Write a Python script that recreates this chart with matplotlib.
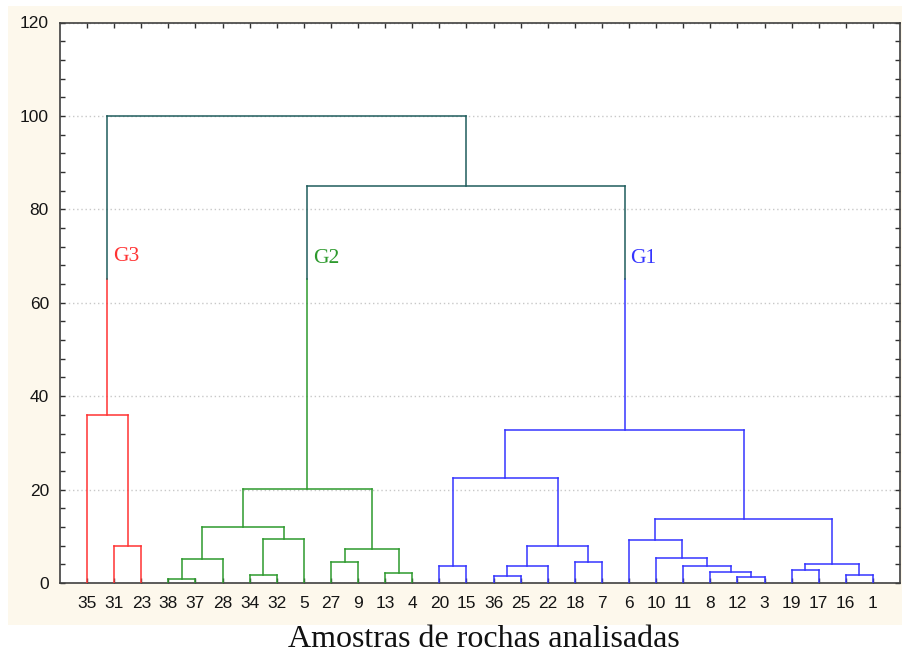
import numpy as np
import matplotlib
matplotlib.use('Agg')
import matplotlib.pyplot as plt
from matplotlib.patches import Rectangle
from matplotlib.ticker import MultipleLocator

# Folhas do dendrograma, pela ordem em que aparecem no eixo x
leaves = ['35', '31', '23', '38', '37', '28', '34', '32', '5', '27', '9', '13', '4',
          '20', '15', '36', '25', '22', '18', '7', '6', '10', '11', '8', '12', '3',
          '19', '17', '16', '1']

# Fusões: (filho a, filho b, altura) -- índices < 30 são folhas, depois 30, 31, ...
merges = [
    (1, 2, 8.0),      # 30
    (0, 30, 36.0),    # 31  G3
    (3, 4, 0.9),      # 32
    (32, 5, 5.1),     # 33
    (6, 7, 1.8),      # 34
    (34, 8, 9.5),     # 35
    (33, 35, 11.9),   # 36
    (9, 10, 4.6),     # 37
    (11, 12, 2.2),    # 38
    (37, 38, 7.2),    # 39
    (36, 39, 20.2),   # 40  G2
    (13, 14, 3.6),    # 41
    (15, 16, 1.4),    # 42
    (42, 17, 3.6),    # 43
    (18, 19, 4.5),    # 44
    (43, 44, 8.0),    # 45
    (41, 45, 22.4),   # 46
    (24, 25, 1.2),    # 47
    (23, 47, 2.4),    # 48
    (22, 48, 3.6),    # 49
    (21, 49, 5.4),    # 50
    (20, 50, 9.3),    # 51
    (26, 27, 2.7),    # 52
    (28, 29, 1.7),    # 53
    (52, 53, 4.1),    # 54
    (51, 54, 13.8),   # 55
    (46, 55, 32.8),   # 56  G1
    (40, 56, 85.0),   # 57
    (31, 57, 100.0),  # 58
]

groups = {31: ('G3', '#FF3333'), 40: ('G2', '#2E9A2E'), 56: ('G1', '#3535FF')}
top_color = '#1F5C5C'
cut = 65

n = len(leaves)
xpos = {i: float(i) for i in range(n)}
ypos = {i: 0.0 for i in range(n)}
kids = {}
for k, (a, b, h) in enumerate(merges):
    node = n + k
    xpos[node] = (xpos[a] + xpos[b]) / 2
    ypos[node] = h
    kids[node] = (a, b)

# cor de cada nó
color = {}
def paint(node, c):
    color[node] = c
    for ch in kids.get(node, ()):
        paint(ch, c)
for node in range(n + len(merges)):
    color[node] = top_color
for root, (name, c) in groups.items():
    paint(root, c)

fig = plt.figure(figsize=(9.02, 6.55), dpi=100, facecolor='white')
fig.patches.append(Rectangle((8/902, 30/655), 1 - 8/902, 619/655, transform=fig.transFigure,
                             facecolor='#FDF8EC', edgecolor='none', zorder=-1))
ax = fig.add_axes([60/902, 72/655, 840/902, 560.5/655])
ax.set_facecolor('white')

lw = 1.1
for k, (a, b, h) in enumerate(merges):
    node = n + k
    c = color[node]
    for ch in (a, b):
        cc = color[ch]
        if cc != c and ypos[ch] < cut < h:
            ax.plot([xpos[ch], xpos[ch]], [ypos[ch], cut], color=cc, lw=lw, zorder=3)
            ax.plot([xpos[ch], xpos[ch]], [cut, h], color=c, lw=lw, zorder=3)
        else:
            ax.plot([xpos[ch], xpos[ch]], [ypos[ch], h], color=c, lw=lw, zorder=3)
    ax.plot([xpos[a], xpos[b]], [h, h], color=c, lw=lw, zorder=3)

for root, (name, c) in groups.items():
    ax.text(xpos[root] + 0.2, 68.5 if name != 'G3' else 69.0, name, color=c,
            fontsize=15.5, family='Liberation Serif', va='baseline', ha='left')

ax.set_xlim(-1, n)
ax.set_ylim(0, 120)
ax.set_xticks(range(n))
ax.set_xticklabels(leaves)
ax.yaxis.set_major_locator(MultipleLocator(20))
ax.yaxis.set_minor_locator(MultipleLocator(4))
ax.grid(axis='y', which='major', color='#C8C8C8', linestyle=(0, (1, 2)), lw=1, zorder=0)
ax.set_axisbelow(True)

ax.tick_params(axis='both', which='both', direction='in', length=3.5, width=1,
               color='#303030', top=True, right=True, labelsize=12.5, labelcolor='#151515')
ax.tick_params(axis='y', pad=8)
ax.tick_params(axis='x', pad=9)
for lab in ax.get_xticklabels() + ax.get_yticklabels():
    lab.set_family('Liberation Sans')
for s in ax.spines.values():
    s.set_color('#404040')
    s.set_linewidth(1.2)

fig.text(484/902, 1/655, 'Amostras de rochas analisadas', fontsize=23,
         family='Liberation Serif', ha='center', va='bottom', color='#111111')

fig.savefig('out.png', dpi=100, facecolor=fig.get_facecolor())
